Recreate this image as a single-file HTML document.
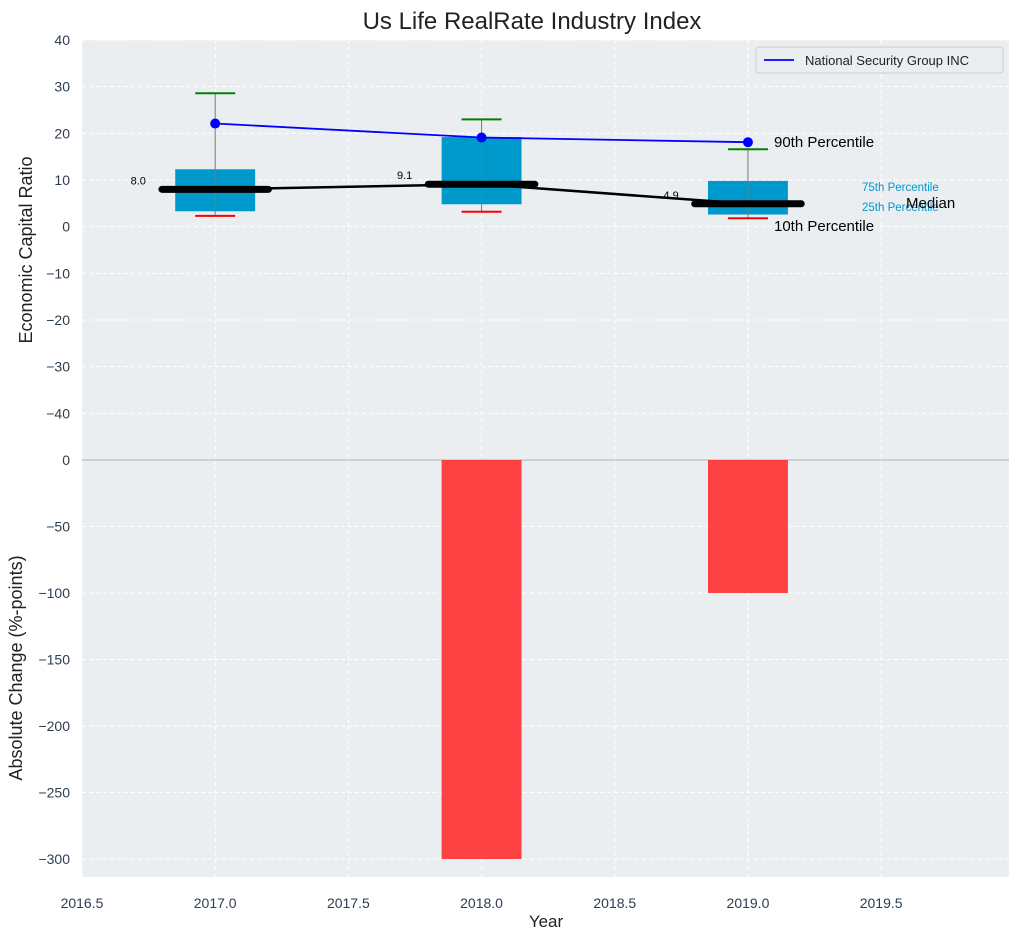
<!DOCTYPE html>
<html><head><meta charset="utf-8"><style>
body{margin:0;background:#fff;font-family:"Liberation Sans",sans-serif}
svg text{font-family:"Liberation Sans",sans-serif}
</style></head><body>
<svg id="c" width="1021" height="940" xmlns="http://www.w3.org/2000/svg"></svg>
<script>
const years=[2017,2018,2019];
const q1=[3.3,4.8,2.6];
const q3=[12.3,19.2,9.8];
const p10=[2.3,3.2,1.8];
const p90=[28.6,23.0,16.6];
const medians=[8.0,9.1,4.9];
const company=[22.1,19.1,18.1];
const changes=[0,-300,-100];
const xTicks=[2016.5,2017,2017.5,2018,2018.5,2019,2019.5];
const yTopTicks=[40,30,20,10,0,-10,-20,-30,-40];
const yBotTicks=[0,-50,-100,-150,-200,-250,-300];

const NS="http://www.w3.org/2000/svg";
const svg=document.getElementById('c');
const L=82,R=1009;
const X=v=>L+(v-2016.5)*(R-L)/(2019.98-2016.5);
const YT=v=>40+(40-v)*(420/90);
const YB=v=>460+(-v)*(417/313.5);
function el(t,a,name,parent){const e=document.createElementNS(NS,t);for(const k in a)e.setAttribute(k,a[k]);


(parent||svg).appendChild(e);return e;}
function tx(s,x,y,a,name){const e=el('text',a,name);e.setAttribute('x',x);e.setAttribute('y',y);e.textContent=s;return e;}

el('rect',{x:L,y:40,width:R-L,height:420,fill:'#eaeef0'},'top-plot-area');
el('rect',{x:L,y:460,width:R-L,height:417,fill:'#eaeef0'},'bottom-plot-area');
xTicks.forEach(v=>{
 el('line',{x1:X(v),x2:X(v),y1:40,y2:877,stroke:'#fff','stroke-dasharray':'4,3'},'x-grid');
 tx(v.toFixed(1),X(v),908,{'text-anchor':'middle','font-size':14,fill:'#2e3e50'},'x-tick-label');
});
yTopTicks.forEach(v=>{
 el('line',{x1:L,x2:R,y1:YT(v),y2:YT(v),stroke:'#fff','stroke-dasharray':'4,3'},'y-grid-top');
 tx(v<0?'\u2212'+(-v):String(v),70,YT(v)+5,{'text-anchor':'end','font-size':14,fill:'#2e3e50'},'y-tick-label-top');
});
yBotTicks.forEach(v=>{
 el('line',{x1:L,x2:R,y1:YB(v),y2:YB(v),stroke:'#fff','stroke-dasharray':'4,3'},'y-grid-bottom');
 tx(v<0?'\u2212'+(-v):String(v),70,YB(v)+5,{'text-anchor':'end','font-size':14,fill:'#2e3e50'},'y-tick-label-bottom');
});
el('line',{x1:L,x2:R,y1:460,y2:460,stroke:'#b0b0b0'},'zero-line');
years.forEach((y,i)=>{
 el('rect',{x:X(y-0.15),y:YT(q3[i]),width:X(y+0.15)-X(y-0.15),height:YT(q1[i])-YT(q3[i]),fill:'#0099cc'},'iqr-box');
 el('line',{x1:X(y),x2:X(y),y1:YT(p90[i]),y2:YT(p10[i]),stroke:'#777','stroke-width':1},'whisker');
 el('line',{x1:X(y-0.075),x2:X(y+0.075),y1:YT(p90[i]),y2:YT(p90[i]),stroke:'green','stroke-width':2},'cap-90th');
 el('line',{x1:X(y-0.075),x2:X(y+0.075),y1:YT(p10[i]),y2:YT(p10[i]),stroke:'red','stroke-width':2},'cap-10th');
 el('line',{x1:X(y-0.2),x2:X(y+0.2),y1:YT(medians[i]),y2:YT(medians[i]),stroke:'#000','stroke-width':7,'stroke-linecap':'round'},'median-bar');
 tx(medians[i].toFixed(1),X(y-0.26),YT(medians[i])-5,{'text-anchor':'end','font-size':11,fill:'#000'},'median-label');
 if(changes[i]!==0) el('rect',{x:X(y-0.15),y:YB(0),width:X(y+0.15)-X(y-0.15),height:YB(changes[i])-YB(0),fill:'#ff2a2a','fill-opacity':0.88},'change-bar');
});
el('polyline',{points:years.map((y,i)=>X(y)+','+YT(medians[i])).join(' '),fill:'none',stroke:'#000','stroke-width':2.5},'median-line');
el('polyline',{points:years.map((y,i)=>X(y)+','+YT(company[i])).join(' '),fill:'none',stroke:'blue','stroke-width':1.8},'company-line');
years.forEach((y,i)=>el('circle',{cx:X(y),cy:YT(company[i]),r:5,fill:'blue'},'company-point'));
tx('90th Percentile',774,147,{'font-size':15,fill:'#000'},'label-90th');
tx('10th Percentile',774,231,{'font-size':15,fill:'#000'},'label-10th');
tx('75th Percentile',862,191,{'font-size':11.5,fill:'#0099cc'},'label-75th');
tx('25th Percentile',862,211,{'font-size':11.5,fill:'#0099cc'},'label-25th');
tx('Median',906,208,{'font-size':15,fill:'#000'},'label-median');
const g=el('g',{},'legend');
el('rect',{x:756,y:47,width:247,height:26,fill:'#eaeef0',stroke:'#ccc',rx:3},'legend-box',g);
el('line',{x1:764,x2:794,y1:60,y2:60,stroke:'blue','stroke-width':1.8},'legend-line',g);
const lt=el('text',{x:805,y:65,'font-size':13,fill:'#222'},'legend-entry',g);lt.textContent='National Security Group INC';
tx('Us Life RealRate Industry Index',532,29,{'text-anchor':'middle','font-size':24,fill:'#222'},'chart-title');
tx('Year',546,927,{'text-anchor':'middle','font-size':17,fill:'#222'},'x-axis-title');
tx('Economic Capital Ratio',0,0,{'text-anchor':'middle','font-size':18,fill:'#222',transform:'translate(32,250) rotate(-90)'},'y-axis-title-top');
tx('Absolute Change (%-points)',0,0,{'text-anchor':'middle','font-size':18,fill:'#222',transform:'translate(22,668) rotate(-90)'},'y-axis-title-bottom');
</script>
</body></html>
